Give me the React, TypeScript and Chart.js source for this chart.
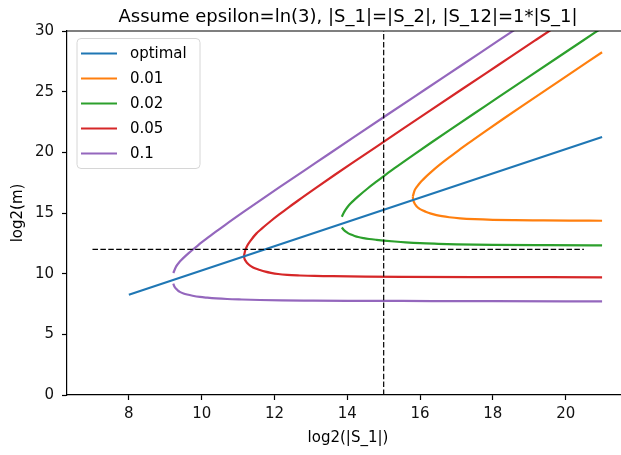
import React, { useEffect, useRef } from 'react';
import { Chart, registerables } from 'chart.js';

Chart.register(...registerables);

const titleText = 'Assume epsilon=ln(3), |S_1|=|S_2|, |S_12|=1*|S_1|';
const xLabel = 'log2(|S_1|)';
const yLabel = 'log2(m)';
const xTicks = [8, 10, 12, 14, 16, 18, 20];
const yTicks = [0, 5, 10, 15, 20, 25, 30];
const seriesNames = ['optimal', '0.01', '0.02', '0.05', '0.1'];
const seriesColors = ['#1f77b4', '#ff7f0e', '#2ca02c', '#d62728', '#9467bd'];

const optimalX = [8, 21];
const optimalY = [8.26, 21.27];

const e001UpX = [15.8, 15.85, 15.9, 15.95, 16.0, 16.05, 16.15, 16.3, 16.55, 16.8, 17.05, 17.3, 17.8, 18.3, 18.8, 19.8, 21];
const e001UpY = [16.35, 16.87, 17.11, 17.31, 17.49, 17.66, 17.96, 18.37, 19.0, 19.58, 20.14, 20.69, 21.75, 22.79, 23.81, 25.83, 28.25];
const e001LoX = [15.8, 15.81, 15.84, 15.88, 15.93, 16.0, 16.08, 16.17, 16.3, 16.45, 16.6, 16.8, 17.1, 17.5, 18.0, 18.6, 19.3, 20.1, 21];
const e001LoY = [16.35, 16.1, 15.85, 15.64, 15.47, 15.32, 15.2, 15.08, 14.95, 14.83, 14.74, 14.65, 14.56, 14.49, 14.44, 14.41, 14.39, 14.37, 14.36];

const e002UpX = [13.85, 13.9, 13.95, 14.05, 14.15, 14.3, 14.55, 14.8, 15.05, 15.3, 15.8, 16.3, 16.8, 17.8, 18.8, 19.8, 20.8, 21];
const e002UpY = [14.7, 15.0, 15.25, 15.66, 15.96, 16.37, 17.0, 17.58, 18.14, 18.69, 19.75, 20.79, 21.81, 23.83, 25.85, 27.86, 29.86, 30.26];
const e002LoX = [13.85, 13.9, 13.95, 14.02, 14.1, 14.2, 14.3, 14.45, 14.6, 14.8, 15.0, 15.3, 15.6, 16.0, 16.5, 17.0, 18.0, 19.5, 21];
const e002LoY = [13.8, 13.62, 13.48, 13.34, 13.22, 13.11, 13.02, 12.93, 12.86, 12.79, 12.73, 12.65, 12.58, 12.51, 12.46, 12.42, 12.38, 12.35, 12.33];

const e005UpX = [11.16, 11.2, 11.25, 11.35, 11.5, 11.65, 11.9, 12.15, 12.4, 12.65, 13.15, 13.65, 14.15, 15.15, 16.15, 17.15, 18.15, 19.15, 20.15, 21];
const e005UpY = [11.45, 11.95, 12.3, 12.75, 13.3, 13.71, 14.34, 14.92, 15.48, 16.03, 17.09, 18.13, 19.15, 21.17, 23.19, 25.2, 27.2, 29.2, 31.2, 32.9];
const e005LoX = [11.16, 11.18, 11.22, 11.27, 11.33, 11.4, 11.5, 11.6, 11.75, 11.9, 12.1, 12.35, 12.7, 13.1, 13.6, 14.5, 15.5, 17.5, 21];
const e005LoY = [11.45, 11.2, 11.0, 10.82, 10.66, 10.53, 10.4, 10.3, 10.17, 10.07, 9.97, 9.9, 9.85, 9.81, 9.79, 9.76, 9.74, 9.72, 9.7];

const e01UpX = [9.22, 9.3, 9.4, 9.5, 9.65, 9.8, 9.9, 10.15, 10.4, 10.65, 11.15, 11.65, 12.15, 13.15, 14.15, 15.15, 16.15, 17.15, 18.15, 19.15, 21];
const e01UpY = [10.05, 10.6, 11.0, 11.3, 11.71, 12.09, 12.34, 12.92, 13.48, 14.03, 15.09, 16.13, 17.15, 19.17, 21.19, 23.2, 25.2, 27.2, 29.2, 31.2, 34.9];
const e01LoX = [9.22, 9.25, 9.3, 9.35, 9.4, 9.5, 9.6, 9.75, 9.95, 10.15, 10.4, 10.7, 11.1, 11.6, 12.2, 13, 14, 15.5, 18, 21];
const e01LoY = [9.18, 8.95, 8.75, 8.6, 8.5, 8.37, 8.28, 8.18, 8.08, 8.02, 7.96, 7.91, 7.87, 7.83, 7.8, 7.78, 7.76, 7.75, 7.73, 7.72];

const hLineX = [7, 20.5];
const hLineY = [12, 12];
const vLineX = [15, 15];
const vLineY = [0, 30];

const FONT = '"DejaVu Sans", sans-serif';

function pts(xs: number[], ys: number[]) {
  return xs.map((x, i) => ({ x, y: ys[i] }));
}

function curve(xs: number[], ys: number[], color: string) {
  return {
    data: pts(xs, ys),
    borderColor: color,
    backgroundColor: color,
    borderWidth: 2.2,
    pointRadius: 0,
    fill: false,
    cubicInterpolationMode: 'monotone' as const,
    order: 2,
  };
}

const decorPlugin = {
  id: 'decor',
  afterDraw(chart: any) {
    const { ctx, chartArea: a } = chart;
    const axesCenterX = 348;
    ctx.save();
    ctx.strokeStyle = '#000';
    ctx.lineWidth = 1.2;
    ctx.beginPath();
    ctx.moveTo(a.left, a.top);
    ctx.lineTo(a.right, a.top);
    ctx.stroke();

    ctx.fillStyle = '#000';
    ctx.font = `18px ${FONT}`;
    ctx.textAlign = 'center';
    ctx.textBaseline = 'alphabetic';
    ctx.fillText(titleText, axesCenterX, a.top - 9);

    ctx.font = `15px ${FONT}`;
    ctx.fillText(xLabel, axesCenterX, 442);

    ctx.save();
    ctx.translate(22, (a.top + a.bottom) / 2);
    ctx.rotate(-Math.PI / 2);
    ctx.textAlign = 'center';
    ctx.textBaseline = 'alphabetic';
    ctx.fillText(yLabel, 0, 0);
    ctx.restore();

    const lx = 77, ly = 38.5, lw = 123, lh = 130, r = 4;
    ctx.beginPath();
    ctx.moveTo(lx + r, ly);
    ctx.lineTo(lx + lw - r, ly);
    ctx.quadraticCurveTo(lx + lw, ly, lx + lw, ly + r);
    ctx.lineTo(lx + lw, ly + lh - r);
    ctx.quadraticCurveTo(lx + lw, ly + lh, lx + lw - r, ly + lh);
    ctx.lineTo(lx + r, ly + lh);
    ctx.quadraticCurveTo(lx, ly + lh, lx, ly + lh - r);
    ctx.lineTo(lx, ly + r);
    ctx.quadraticCurveTo(lx, ly, lx + r, ly);
    ctx.closePath();
    ctx.fillStyle = 'rgba(255,255,255,0.8)';
    ctx.fill();
    ctx.strokeStyle = '#d6d6d6';
    ctx.lineWidth = 1;
    ctx.stroke();

    ctx.font = `15px ${FONT}`;
    ctx.textAlign = 'left';
    ctx.textBaseline = 'middle';
    seriesNames.forEach((name, i) => {
      const y = ly + 15 + i * 25;
      ctx.strokeStyle = seriesColors[i];
      ctx.lineWidth = 2.2;
      ctx.beginPath();
      ctx.moveTo(lx + 4, y);
      ctx.lineTo(lx + 40, y);
      ctx.stroke();
      ctx.fillStyle = '#000';
      ctx.fillText(name, lx + 53, y + 1);
    });
    ctx.restore();
  },
};

export default function App() {
  const ref = useRef<HTMLCanvasElement | null>(null);

  useEffect(() => {
    if (!ref.current) return;
    const dashed = (xs: number[], ys: number[]) => ({
      data: pts(xs, ys),
      borderColor: '#000',
      borderWidth: 1.2,
      borderDash: [5.5, 2.4],
      pointRadius: 0,
      fill: false,
      order: 0,
    });
    const chart = new Chart(ref.current, {
      type: 'line',
      data: {
        datasets: [
          dashed(hLineX, hLineY),
          dashed(vLineX, vLineY),
          { ...curve(optimalX, optimalY, seriesColors[0]), order: 1, cubicInterpolationMode: 'default' as const },
          curve(e001UpX, e001UpY, seriesColors[1]),
          curve(e001LoX, e001LoY, seriesColors[1]),
          curve(e002UpX, e002UpY, seriesColors[2]),
          curve(e002LoX, e002LoY, seriesColors[2]),
          curve(e005UpX, e005UpY, seriesColors[3]),
          curve(e005LoX, e005LoY, seriesColors[3]),
          curve(e01UpX, e01UpY, seriesColors[4]),
          curve(e01LoX, e01LoY, seriesColors[4]),
        ] as any,
      },
      options: {
        animation: false,
        responsive: false,
        devicePixelRatio: 1,
        events: [],
        layout: { padding: { top: 31, left: 0, right: 0, bottom: 0 } },
        plugins: {
          legend: { display: false },
          title: { display: false },
          tooltip: { enabled: false },
        },
        scales: {
          x: {
            type: 'linear',
            min: 6.3,
            max: 21.52,
            afterBuildTicks: (s: any) => {
              s.ticks = xTicks.map((v) => ({ value: v }));
            },
            afterFit: (s: any) => {
              s.height = 60;
            },
            grid: {
              display: true,
              drawOnChartArea: false,
              drawTicks: true,
              tickLength: 5,
              tickColor: '#000',
              tickWidth: 1.2,
            },
            border: { display: true, color: '#000', width: 1.2 },
            ticks: {
              font: { family: FONT, size: 15 },
              color: '#111',
              padding: 5,
              maxRotation: 0,
              autoSkip: false,
              callback: (v: any) => String(v),
            },
          },
          y: {
            type: 'linear',
            min: 0,
            max: 30,
            afterBuildTicks: (s: any) => {
              s.ticks = yTicks.map((v) => ({ value: v }));
            },
            afterFit: (s: any) => {
              s.width = 67;
            },
            grid: {
              display: true,
              drawOnChartArea: false,
              drawTicks: true,
              tickLength: 5,
              tickColor: '#000',
              tickWidth: 1.2,
            },
            border: { display: true, color: '#000', width: 1.2 },
            ticks: {
              font: { family: FONT, size: 15 },
              color: '#111',
              padding: 8,
              autoSkip: false,
              callback: (v: any) => String(v),
            },
          },
        },
      },
      plugins: [decorPlugin],
    });
    return () => chart.destroy();
  }, []);

  return (
    <div style={{ position: 'absolute', left: 0, top: 0, width: 621, height: 455, background: '#fff' }}>
      <canvas ref={ref} width={621} height={455} style={{ display: 'block', width: 621, height: 455 }} />
    </div>
  );
}
